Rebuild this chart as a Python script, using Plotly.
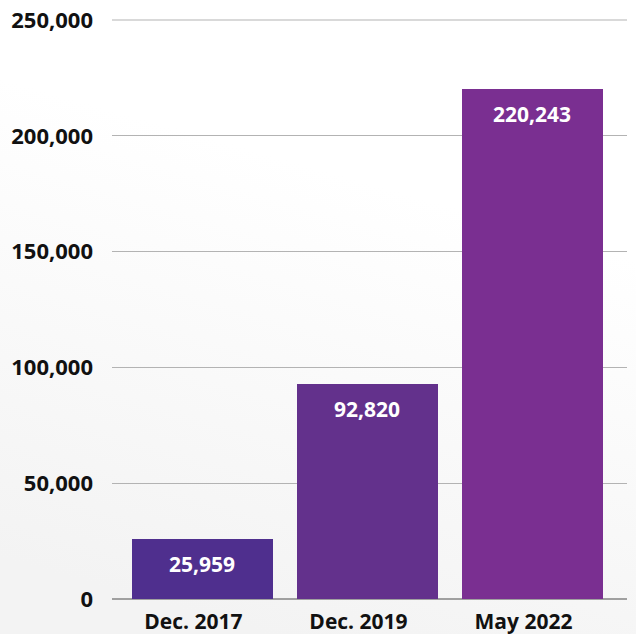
import base64
import plotly.graph_objects as go

# Data
periods = ["Dec. 2017", "Dec. 2019", "May 2022"]
counts = [25959, 92820, 220243]
bar_colors = ["#4F2F8E", "#63318C", "#7A2F91"]
y_ticks = [0, 50000, 100000, 150000, 200000, 250000]
y_tick_labels = ["0", "50,000", "100,000", "150,000", "200,000", "250,000"]

FONT = "Open Sans"

fig = go.Figure()
fig.add_trace(go.Bar(
    x=periods,
    y=counts,
    marker=dict(color=bar_colors, line=dict(width=0)),
    width=0.855,
    hoverinfo="skip",
))

# Value labels inside the top of each bar
for p, v in zip(periods, counts):
    fig.add_annotation(
        x=p, y=v, text=f"{v:,}", showarrow=False,
        yanchor="middle", yshift=-25,
        font=dict(family=FONT, size=21, color="white", weight="bold"),
    )

# Top gridline sits on the plot edge (top of the y range), so draw it unclipped
fig.add_shape(
    type="line", xref="paper", yref="paper",
    x0=0, x1=1, y0=1, y1=1,
    line=dict(color="#b3b3b3", width=1), layer="below",
)

# Soft background shading (white at top to light grey at bottom)
svg = (
    '<svg xmlns="http://www.w3.org/2000/svg" width="636" height="634">'
    '<defs><linearGradient id="g" x1="0.62" y1="0.3" x2="0.42" y2="1">'
    '<stop offset="0" stop-color="#ffffff"/>'
    '<stop offset="1" stop-color="#f3f3f3"/>'
    '</linearGradient></defs>'
    '<rect width="636" height="634" fill="url(#g)"/></svg>'
)
bg = "data:image/svg+xml;base64," + base64.b64encode(svg.encode()).decode()
fig.add_layout_image(
    source=bg, xref="paper", yref="paper",
    x=-112 / 515, y=1 + 20 / 579,
    sizex=636 / 515, sizey=634 / 579,
    xanchor="left", yanchor="top", sizing="stretch", layer="below",
)

fig.update_layout(
    width=636, height=634,
    margin=dict(l=112, r=9, t=20, b=35, autoexpand=False),
    paper_bgcolor="rgba(0,0,0,0)",
    plot_bgcolor="rgba(0,0,0,0)",
    showlegend=False,
    bargap=0,
    font=dict(family=FONT, color="#111111"),
)
fig.update_xaxes(
    range=[-0.548, 2.573], automargin=False,
    showgrid=False, showline=False, zeroline=False,
    ticks="", ticklabelstandoff=8, ticklabelshift=-9,
    tickfont=dict(family=FONT, size=21, color="#111111", weight="bold"),
)
fig.update_yaxes(
    range=[0, 250000], automargin=False,
    tickvals=y_ticks, ticktext=y_tick_labels,
    showgrid=True, gridcolor="#b3b3b3", gridwidth=1,
    zeroline=True, zerolinecolor="#a0a0a0", zerolinewidth=1.5,
    showline=False, ticks="", ticklabelstandoff=18,
    tickfont=dict(family=FONT, size=22, color="#111111", weight="bold"),
)

fig.write_html("out.html")
